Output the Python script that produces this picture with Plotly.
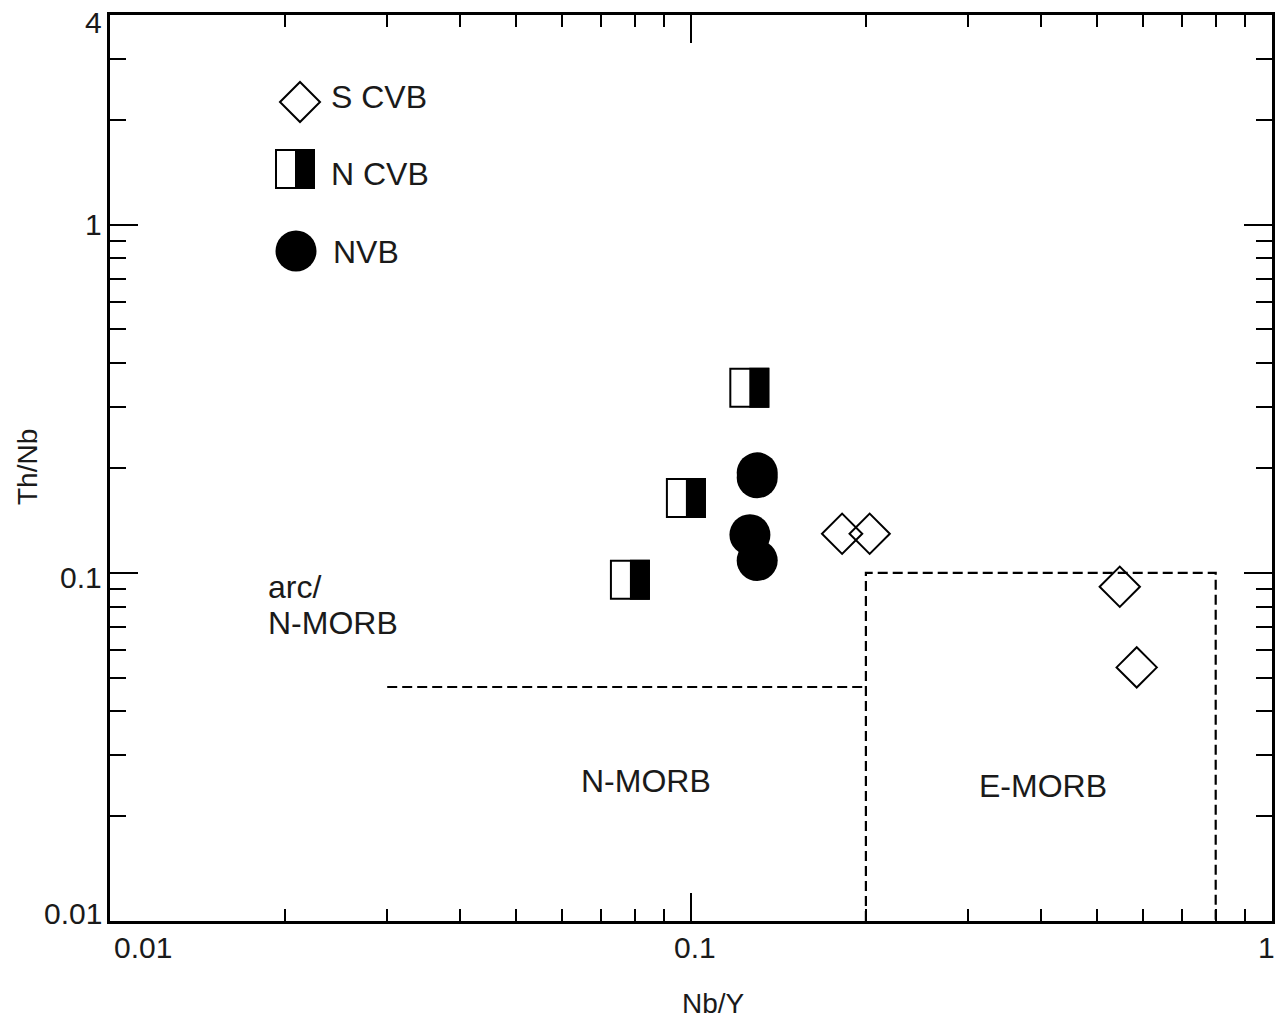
import numpy as np
import plotly.graph_objects as go

# ---- sample data (Nb/Y vs Th/Nb) ----
scvb_nby = [0.182, 0.203, 0.547, 0.585]
scvb_thnb = [0.1295, 0.1295, 0.0912, 0.0535]

ncvb_nby = [0.126, 0.098, 0.0785]
ncvb_thnb = [0.34, 0.164, 0.0955]

nvb_nby = [0.13, 0.13, 0.1263, 0.13]
nvb_thnb = [0.1937, 0.1875, 0.1286, 0.1085]

# ---- field boundaries ----
arc_line_x = [0.03, 0.2]
arc_line_y = [0.047, 0.047]
emorb_box_x = [0.2, 0.2, 0.8, 0.8]
emorb_box_y = [0.01, 0.1, 0.1, 0.01]

# ---- axes ticks ----
x_range = [0.01, 1]
y_range = [0.01, 4]
x_major = [0.01, 0.1, 1]
x_major_text = ["0.01", "0.1", "1"]
y_major = [0.01, 0.1, 1, 4]
y_major_text = ["0.01", "0.1", "1", "4"]
x_minor = [m * d for d in (0.01, 0.1) for m in range(2, 10)]
y_minor = [m * d for d in (0.01, 0.1) for m in range(2, 10)] + [2, 3]

FONT = "Liberation Sans, Arial, sans-serif"
TXT = "#1a1a1a"

# plot area in pixels
W, H = 1288, 1025
L, R, T, B = 110, 16, 15, 104
PW, PH = W - L - R, H - T - B

xr = [np.log10(v) for v in x_range]
yr = [np.log10(v) for v in y_range]
# pixels per decade along each axis
XDEC = PW / (xr[1] - xr[0])
YDEC = PH / (yr[1] - yr[0])


def px(X):
    return (X - L) / PW


def py(Y):
    return (H - B - Y) / PH


fig = go.Figure()

dash = "10px,5px"
fig.add_trace(go.Scatter(x=arc_line_x, y=arc_line_y, mode="lines",
                         line=dict(color="black", width=2.2, dash=dash),
                         showlegend=False, hoverinfo="skip"))
fig.add_trace(go.Scatter(x=emorb_box_x, y=emorb_box_y, mode="lines",
                         line=dict(color="black", width=2.2, dash=dash),
                         showlegend=False, hoverinfo="skip"))

fig.add_trace(go.Scatter(x=scvb_nby, y=scvb_thnb, mode="markers", name="S CVB",
                         marker=dict(symbol="diamond-open", size=31, color="black",
                                     line=dict(width=2, color="black")),
                         showlegend=False))
fig.add_trace(go.Scatter(x=nvb_nby, y=nvb_thnb, mode="markers", name="NVB",
                         marker=dict(symbol="circle", size=41, color="black",
                                     line=dict(width=0)),
                         showlegend=False))

shapes = []


def half_square_data(xv, yv):
    """White square with black right half, sized in pixels around a data point."""
    fx = lambda p: xv * 10 ** (p / XDEC)
    fy = lambda p: yv * 10 ** (p / YDEC)
    return [
        dict(type="rect", xref="x", yref="y", x0=fx(-19), x1=fx(19), y0=fy(-19), y1=fy(19),
             fillcolor="white", line=dict(color="black", width=2)),
        dict(type="rect", xref="x", yref="y", x0=xv, x1=fx(20), y0=fy(-20), y1=fy(20),
             fillcolor="black", line=dict(width=0)),
    ]


def half_square_paper(xa, ya):
    return [
        dict(type="rect", xref="paper", yref="paper", xsizemode="pixel", ysizemode="pixel",
             xanchor=xa, yanchor=ya, x0=-19, x1=19, y0=-19, y1=19,
             fillcolor="white", line=dict(color="black", width=2)),
        dict(type="rect", xref="paper", yref="paper", xsizemode="pixel", ysizemode="pixel",
             xanchor=xa, yanchor=ya, x0=0, x1=20, y0=-20, y1=20,
             fillcolor="black", line=dict(width=0)),
    ]


# N CVB half-filled squares at the data positions
for xv, yv in zip(ncvb_nby, ncvb_thnb):
    shapes += half_square_data(xv, yv)

# ---- key ----
shapes.append(dict(type="path", xref="paper", yref="paper", xsizemode="pixel",
                   ysizemode="pixel", xanchor=px(300), yanchor=py(102),
                   path="M -20,0 L 0,20 L 20,0 L 0,-20 Z",
                   line=dict(color="black", width=2)))
shapes += half_square_paper(px(295), py(169))
shapes.append(dict(type="circle", xref="paper", yref="paper", xsizemode="pixel",
                   ysizemode="pixel", xanchor=px(296), yanchor=py(251),
                   x0=-20.5, x1=20.5, y0=-20.5, y1=20.5,
                   fillcolor="black", line=dict(width=0)))

annotations = []


def label(text, X, Y, size=32, xanchor="left"):
    annotations.append(dict(text=text, xref="paper", yref="paper", x=px(X), y=py(Y),
                            xanchor=xanchor, yanchor="middle", showarrow=False,
                            font=dict(family=FONT, size=size, color=TXT)))


label("S CVB", 329, 97)
label("N CVB", 329, 174)
label("NVB", 331, 252)
label("arc/", 266, 587)
label("N-MORB", 266, 623)
label("N-MORB", 646, 781, xanchor="center")
label("E-MORB", 1043, 786, xanchor="center")

# tick labels
x_shift = [33, 4, -6]
for v, t, s in zip(x_major, x_major_text, x_shift):
    annotations.append(dict(text=t, xref="x", yref="paper", x=np.log10(v), y=0,
                            xanchor="center", yanchor="top", yshift=-8, xshift=s,
                            showarrow=False, font=dict(family=FONT, size=30, color=TXT)))
y_shift = [8, -5, 0, -7]
for v, t, s in zip(y_major, y_major_text, y_shift):
    annotations.append(dict(text=t, xref="paper", yref="y", x=0, y=np.log10(v),
                            xanchor="right", yanchor="middle", xshift=-6, yshift=s,
                            showarrow=False, font=dict(family=FONT, size=30, color=TXT)))

# axis titles
annotations.append(dict(text="Nb/Y", xref="paper", yref="paper", x=px(713), y=py(1004),
                        xanchor="center", yanchor="middle", showarrow=False,
                        font=dict(family=FONT, size=28, color=TXT)))
annotations.append(dict(text="Th/Nb", xref="paper", yref="paper", x=px(27), y=py(467),
                        xanchor="center", yanchor="middle", showarrow=False, textangle=-90,
                        font=dict(family=FONT, size=28, color=TXT)))

axis_common = dict(type="log", showgrid=False, zeroline=False, showline=True,
                   linecolor="black", linewidth=2.5, mirror="ticks", ticks="inside",
                   ticklen=28, tickwidth=2, tickcolor="black", showticklabels=False)

fig.update_layout(
    width=W, height=H,
    margin=dict(l=L, r=R, t=T, b=B),
    paper_bgcolor="white", plot_bgcolor="white",
    xaxis=dict(axis_common, range=xr, tickmode="array", tickvals=x_major,
               minor=dict(tickmode="array", tickvals=x_minor, ticks="inside",
                          ticklen=12, tickwidth=2, tickcolor="black")),
    yaxis=dict(axis_common, range=yr, tickmode="array", tickvals=y_major,
               minor=dict(tickmode="array", tickvals=y_minor, ticks="inside",
                          ticklen=16, tickwidth=2, tickcolor="black")),
    shapes=shapes,
    annotations=annotations,
    showlegend=False,
)

fig.write_html("out.html")
